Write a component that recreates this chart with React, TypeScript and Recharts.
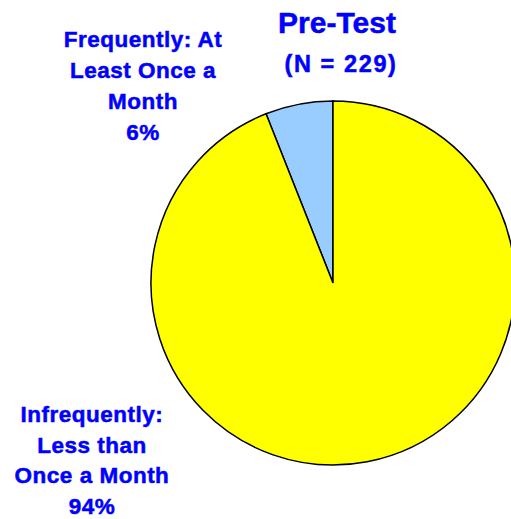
import React from "react";
import { PieChart, Pie, Cell } from "recharts";

const categories = ["Frequently: At Least Once a Month", "Infrequently: Less than Once a Month"];
const values = [6, 94];
const labelLines = [
  ["Frequently: At", "Least Once a", "Month", "6%"],
  ["Infrequently:", "Less than", "Once a Month", "94%"],
];
const titleText = "Pre-Test";
const subtitleText = "(N = 229)";

const colors = ["#99CCFF", "#FFFF00"];
const labelPos = [
  { x: 143, y: 47, step: 31 },
  { x: 92, y: 422, step: 30.5 },
];
const FONT = "'Liberation Sans', Arial, Helvetica, sans-serif";
const BLUE = "#0000FF";

const data = categories.map((name, i) => ({ name, value: values[i] }));

const renderLabel = (props: any) => {
  const i = props.index;
  const p = labelPos[i];
  return (
    <text
      key={`lbl-${i}`}
      x={p.x}
      y={p.y}
      textAnchor="middle"
      fill={BLUE}
      stroke={BLUE}
      strokeWidth={0.5}
      fontFamily={FONT}
      fontWeight="bold"
      fontSize={22.5}
      letterSpacing={0.5}
    >
      {labelLines[i].map((line, j) => (
        <tspan key={j} x={p.x} y={p.y + j * p.step}>
          {line}
        </tspan>
      ))}
    </text>
  );
};

export default function App() {
  return (
    <div style={{ position: "absolute", left: 0, top: 0, width: 511, height: 519, overflow: "hidden", background: "#fff" }}>
      <PieChart width={540} height={519} margin={{ top: 0, right: 0, bottom: 0, left: 0 }}>
        <Pie
          data={data}
          dataKey="value"
          nameKey="name"
          cx={333}
          cy={283}
          outerRadius={182}
          startAngle={90}
          endAngle={450}
          stroke="#000"
          strokeWidth={1.5}
          label={renderLabel}
          labelLine={false}
          isAnimationActive={false}
        >
          {data.map((d, i) => (
            <Cell key={d.name} fill={colors[i]} />
          ))}
        </Pie>
        <text x={337} y={33} textAnchor="middle" fill={BLUE} stroke={BLUE} strokeWidth={0.5} fontFamily={FONT} fontWeight="bold" fontSize={30}>
          {titleText}
        </text>
        <text x={341} y={72} textAnchor="middle" fill={BLUE} stroke={BLUE} strokeWidth={0.5} fontFamily={FONT} fontWeight="bold" fontSize={23.5} letterSpacing={1.6}>
          {subtitleText}
        </text>
      </PieChart>
    </div>
  );
}
